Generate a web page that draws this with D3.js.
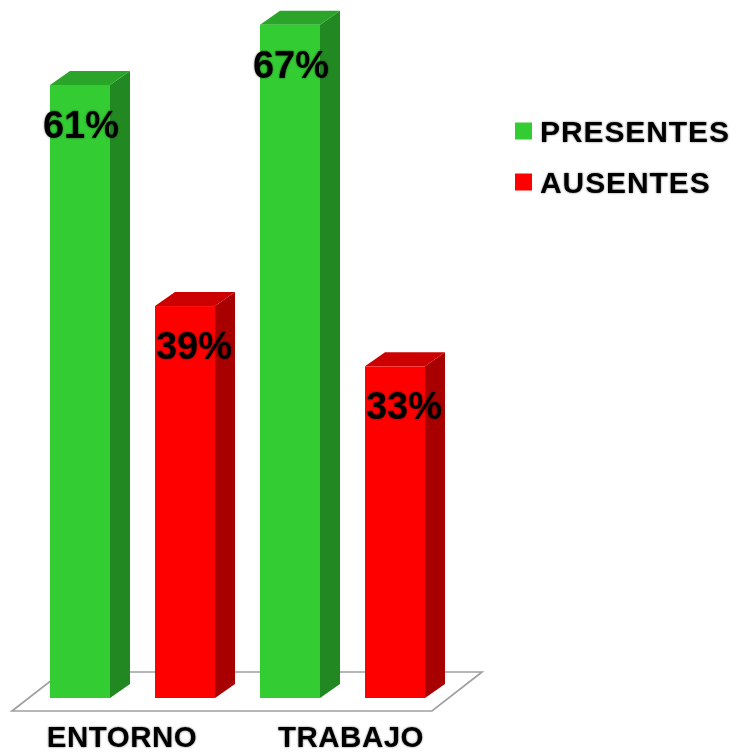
<!DOCTYPE html>
<html><head><meta charset="utf-8">
<script src="https://cdn.jsdelivr.net/npm/d3@7"></script>
<style>html,body{margin:0;padding:0;background:#fff;}svg{display:block;}</style>
</head><body>
<script>
const categories = ["ENTORNO", "TRABAJO"];
const series = ["PRESENTES", "AUSENTES"];
const presentes = [61, 67];
const ausentes = [39, 33];
const valueLabels = [["61%", "39%"], ["67%", "33%"]];

const W = 737, H = 754;
const svg = d3.select("body").append("svg").attr("width", W).attr("height", H);

const defs = svg.append("defs");
const f = defs.append("filter").attr("id", "glow").attr("x", "-10%").attr("y", "-10%").attr("width", "120%").attr("height", "120%");
f.append("feGaussianBlur").attr("in", "SourceAlpha").attr("stdDeviation", 0.8).attr("result", "b");
f.append("feComponentTransfer").attr("in", "b").attr("result", "c")
  .append("feFuncA").attr("type", "linear").attr("slope", 0.5);
const m = f.append("feMerge");
m.append("feMergeNode").attr("in", "c");
m.append("feMergeNode").attr("in", "SourceGraphic");

const colors = {
  PRESENTES: {front: "#33CC33", side: "#228822", top: "#2AA52A"},
  AUSENTES: {front: "#FF0000", side: "#A80000", top: "#CC0000"}
};

const base = 698, depthX = 20, depthY = 14;
const y = d3.scaleLinear().domain([0, 100]).range([base, base - 1005]);
const x0 = d3.scaleBand().domain(categories).range([50, 470]);
const x1 = d3.scaleBand().domain(series).range([0, 165]).paddingInner(45 / 105).paddingOuter(0);
const bw = x1.bandwidth();

// floor
const fl = 12, fr = 432, fy = 711, by = 672, fdx = 50;
svg.append("path")
  .attr("d", `M${fl},${fy} L${fr},${fy} L${fr + fdx},${by} L${fl + fdx},${by} Z`)
  .attr("fill", "#fff").attr("stroke", "#a0a0a0").attr("stroke-width", 1.7);

const data = [];
categories.forEach((c, i) => {
  data.push({cat: c, s: "PRESENTES", v: presentes[i], label: valueLabels[i][0]});
  data.push({cat: c, s: "AUSENTES", v: ausentes[i], label: valueLabels[i][1]});
});

const g = svg.append("g");
data.forEach(d => {
  const xa = x0(d.cat) + x1(d.s), xb = xa + bw, yt = y(d.v), yb = y(0);
  const col = colors[d.s];
  g.append("path").attr("fill", col.side)
    .attr("d", `M${xb},${yt} L${xb + depthX},${yt - depthY} L${xb + depthX},${yb - depthY} L${xb},${yb} Z`);
  g.append("path").attr("fill", col.top)
    .attr("d", `M${xa},${yt} L${xa + depthX},${yt - depthY} L${xb + depthX},${yt - depthY} L${xb},${yt} Z`);
  g.append("rect").attr("x", xa).attr("y", yt).attr("width", bw).attr("height", yb - yt).attr("fill", col.front);
});

const font = "Liberation Sans, Arial, sans-serif";

// value labels
data.forEach(d => {
  const xa = x0(d.cat) + x1(d.s);
  const dx = d.s === "AUSENTES" ? 9 : 1;
  svg.append("text")
    .attr("x", xa + bw / 2 + dx).attr("y", y(d.v) + 53)
    .attr("text-anchor", "middle")
    .attr("font-family", font).attr("filter", "url(#glow)")
    .attr("font-weight", "bold").attr("font-size", 38).attr("fill", "#000")
    .text(d.label);
});

// category labels
const catOffset = {ENTORNO: -20, TRABAJO: -1};
categories.forEach(c => {
  svg.append("text")
    .attr("x", x0(c) + 92 + catOffset[c]).attr("y", 747)
    .attr("text-anchor", "middle")
    .attr("font-family", font).attr("filter", "url(#glow)")
    .attr("font-weight", "bold").attr("font-size", 29.5).attr("letter-spacing", 0.5).attr("fill", "#000")
    .text(c);
});

// legend
series.forEach((s, i) => {
  const ly = 131 + i * 51;
  svg.append("rect").attr("x", 515).attr("y", ly - 8.5).attr("width", 17).attr("height", 17).attr("fill", colors[s].front);
  svg.append("text").attr("x", 540).attr("y", ly + 10.5)
    .attr("font-family", font).attr("filter", "url(#glow)")
    .attr("font-weight", "bold").attr("font-size", 30).attr("letter-spacing", 0.9).attr("fill", "#000")
    .text(s);
});
</script>
</body></html>
